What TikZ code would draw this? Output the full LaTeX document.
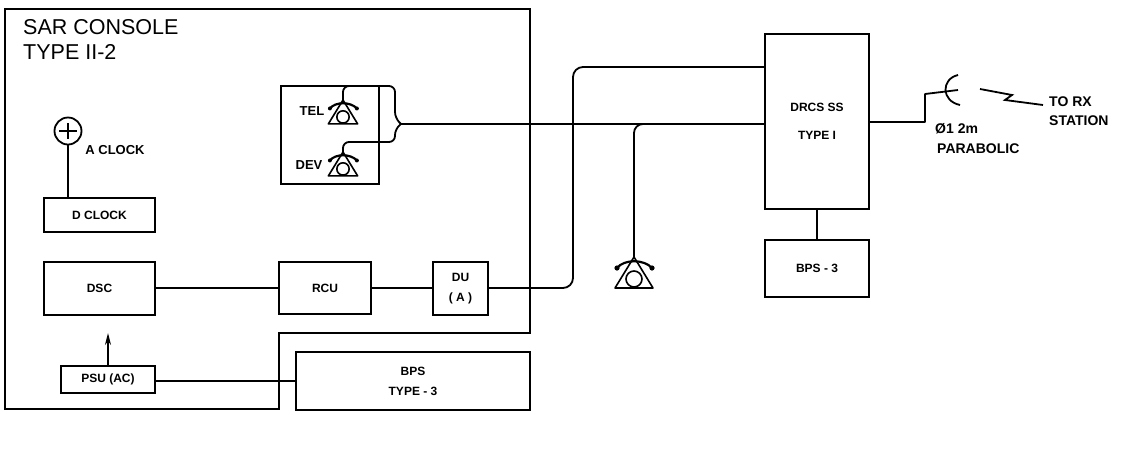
\documentclass[tikz,border=0pt]{standalone}
\usepackage{fontspec}
\setmainfont{Liberation Sans}
\usetikzlibrary{arrows.meta}
\tikzset{
  wire/.style={line width=1.8pt,line join=round},
  unit/.style={draw,line width=1.9pt,inner sep=0pt,outer sep=0pt,align=center,font=\bfseries\fontsize{12}{20}\selectfont},
  lbl/.style={inner sep=0pt,font=\bfseries\fontsize{13}{19}\selectfont,align=left},
  bigl/.style={inner sep=0pt,font=\bfseries\fontsize{14}{19}\selectfont,align=left},
  title/.style={inner sep=0pt,font=\fontsize{21.5}{25}\selectfont,align=left},
  phone/.pic={
    \draw[line width=1.6pt,line join=round] (0,0) -- (-19,31) -- (19,31) -- cycle;
    \draw[line width=1.6pt] (0,22) circle (8);
    \draw[line width=2.2pt] (-17,11) .. controls (-10,2) and (10,2) .. (18,11);
    \fill (-17,11) circle (2.6) (18,11) circle (2.6);
    \coordinate (-top) at (0,0);
  }
}
\begin{document}
\begin{tikzpicture}[x=1pt,y=-1pt]
\useasboundingbox (0,0) rectangle (1121,448);
% console outline
\draw[line width=2.2pt,line join=miter] (5,9) -- (530,9) -- (530,333) -- (279,333) -- (279,409) -- (5,409) -- cycle;
\node[title,anchor=north west] (consoletitle) at (23,19) {SAR CONSOLE\\TYPE II-2};
% units
\node[unit,minimum width=98pt,minimum height=98pt] (telbox) at (330,135) {};
\node[unit,minimum width=111pt,minimum height=34pt] (dclock) at (99.5,215) {D CLOCK};
\node[unit,minimum width=111pt,minimum height=53pt] (dsc) at (99.5,288.5) {DSC};
\node[unit,minimum width=94pt,minimum height=27pt] (psu) at (108,379.5) {PSU (AC)};
\node[unit,minimum width=92pt,minimum height=52pt] (rcu) at (325,288) {RCU};
\node[unit,minimum width=55pt,minimum height=53pt] (du) at (460.5,288.5) {DU\\( A )};
\node[unit,minimum width=234pt,minimum height=58pt] (bps) at (413,381) {BPS\\TYPE - 3};
\node[unit,minimum width=104pt,minimum height=175pt,font=\bfseries\fontsize{12}{28}\selectfont] (drcs) at (817,121.5) {DRCS SS\\TYPE I};
\node[unit,minimum width=104pt,minimum height=57pt] (bpsthree) at (817,268.5) {BPS - 3};
% clock
\node[draw,circle,line width=1.8pt,minimum size=27pt,inner sep=0pt,outer sep=0pt] (clock) at (68,131) {};
\draw[line width=1.5pt] (clock.center) ++(-9,0) -- ++(18,0) (clock.center) ++(0,-8) -- ++(0,16);
\node[lbl] (aclock) at (115,150) {A CLOCK};
\draw[wire] (clock.south) -- (clock.south |- dclock.north);
% telephones
\pic (tel) at (343,100) [scale=.77] {phone};
\pic (dev) at (343,152) [scale=.77] {phone};
\pic (field) at (634,257) {phone};
\node[lbl] (tellbl) at (312,111) {TEL};
\node[lbl] (devlbl) at (309,165) {DEV};
% brace and main line
\coordinate (bracetop) at (395,86);
\coordinate (braceup) at (395,118);
\coordinate (bracebot) at (395,142);
\coordinate (bracelow) at (395,129);
\coordinate (bracetip) at (401,124);
\draw[wire,rounded corners=6pt] (tel-top) |- (bracetop) -- (braceup) -- (bracetip);
\draw[wire,rounded corners=6pt] (dev-top) |- (bracebot) -- (bracelow) -- (bracetip);
\draw[wire] (bracetip) -- (bracetip -| drcs.west);
% branch to field telephone
\coordinate (branch) at (646,124);
\draw[wire,rounded corners=9pt] (branch) -| (field-top);
% DU to DRCS
\coordinate (upper) at (573,67);
\draw[wire,rounded corners=10pt] (rcu.east -| du.east) -| (upper) -- (upper -| drcs.west);
% horizontal links
\draw[wire] (rcu.west -| dsc.east) -- (rcu.west);
\draw[wire] (rcu.east) -- (rcu.east -| du.west);
\draw[wire] (bps.west -| psu.east) -- (bps.west);
\draw[wire] (drcs.south) -- (bpsthree.north);
\coordinate (arrowtip) at (108,333);
\draw[line width=1.4pt,-{Stealth[length=12pt,width=6pt]}] (psu.north) -- (arrowtip);
% antenna
\coordinate (antfoot) at (925,122);
\coordinate (anttop) at (925,94);
\coordinate (feed) at (958,90);
\draw[wire] (drcs.east |- antfoot) -- (antfoot) -- (anttop) -- (feed);
\draw[wire] (958,75) .. controls (941,79) and (941,101) .. (960,105);
\draw[line width=1.8pt,line join=miter] (980,89) -- (1012,95) -- (1005,100) -- (1043,105);
\node[bigl,anchor=west] (dia) at (935,129) {Ø1 2m};
\node[bigl,anchor=west] (para) at (937,149) {PARABOLIC};
\node[bigl,anchor=north west] (torx) at (1049,97) {TO RX\\STATION};
\end{tikzpicture}
\end{document}
